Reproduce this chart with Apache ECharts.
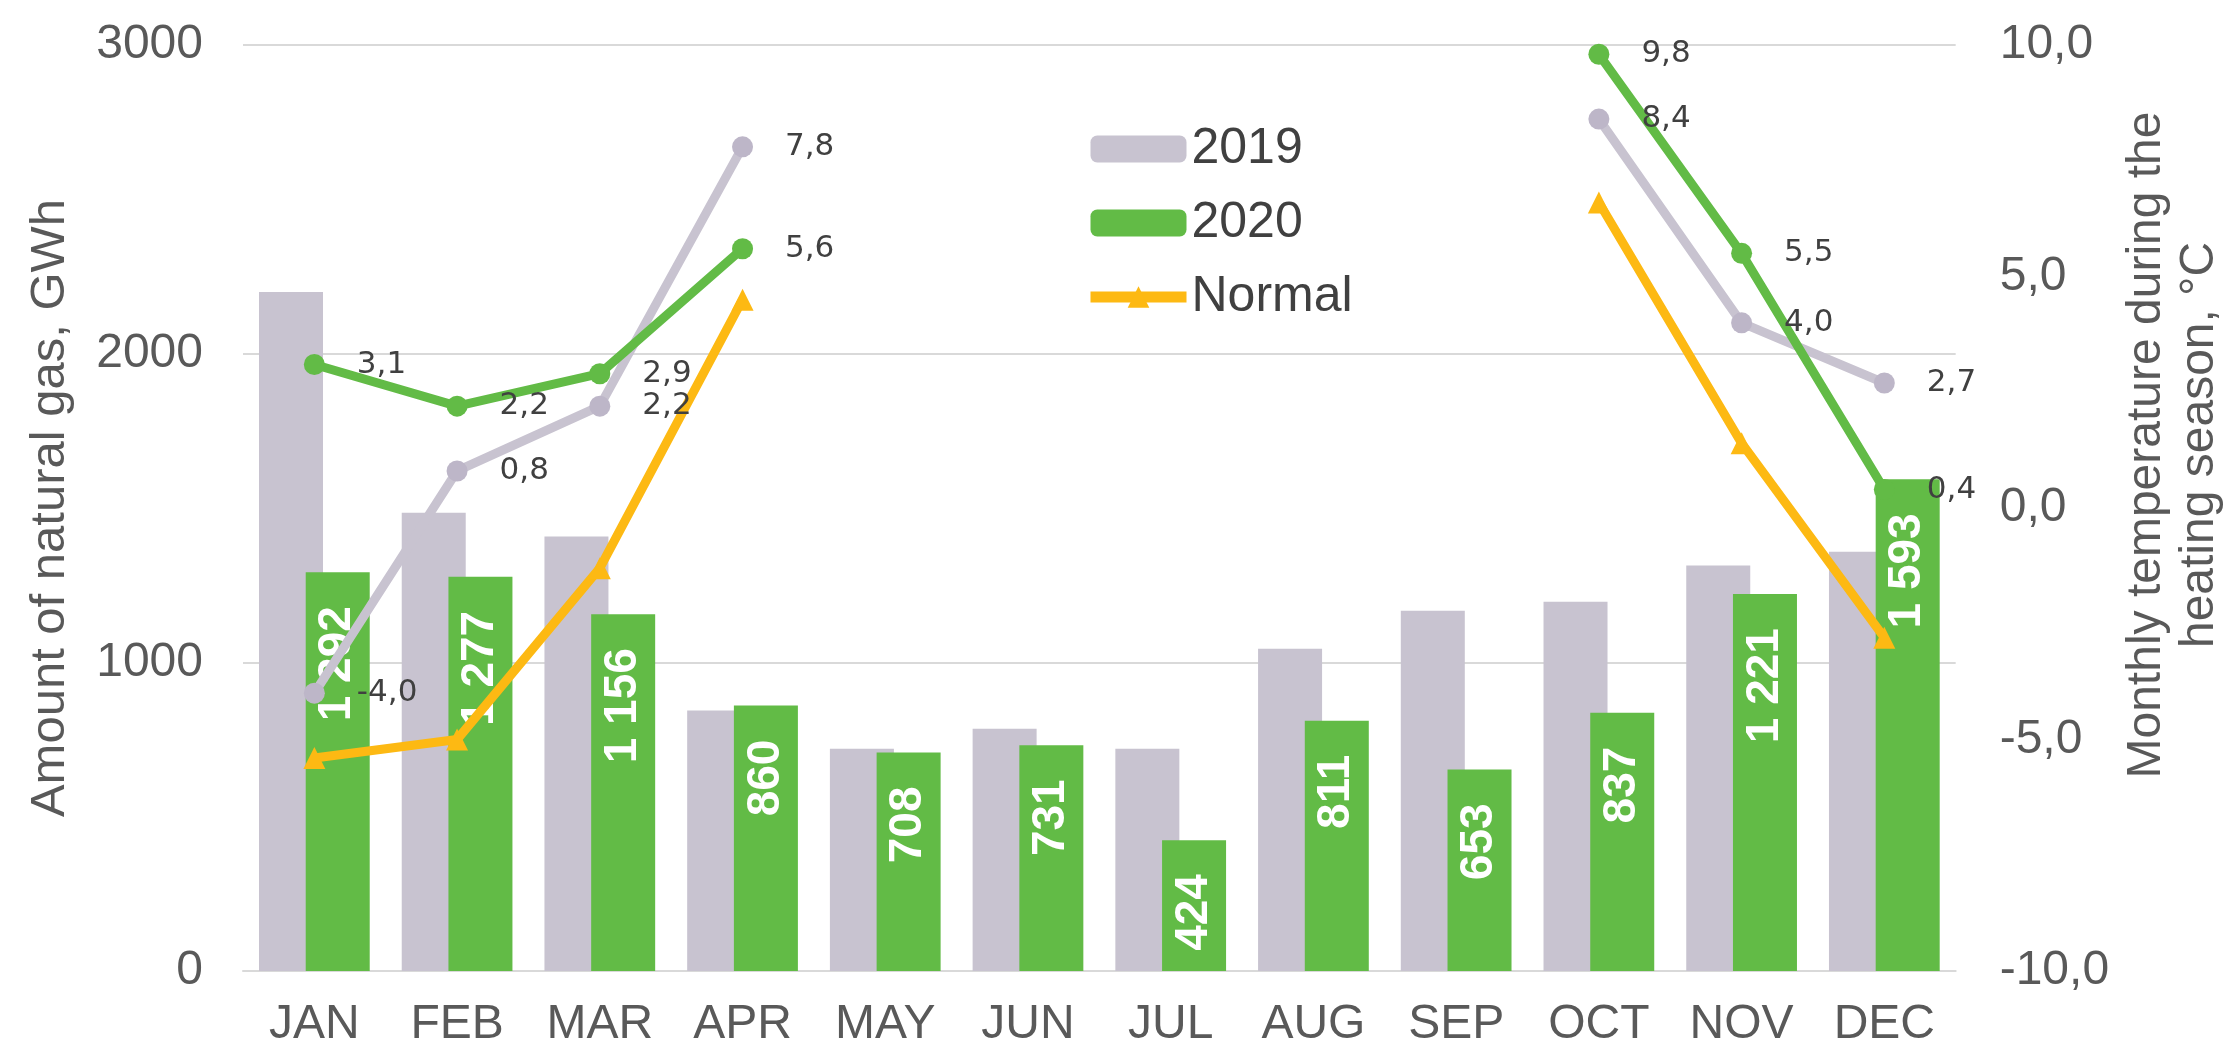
<!DOCTYPE html>
<html>
<head>
<meta charset="utf-8">
<script src="https://cdn.jsdelivr.net/npm/echarts@6/dist/echarts.min.js"></script>
<style>
  html, body { margin: 0; padding: 0; background: #fff; }
  #main { width: 2234px; height: 1049px; }
</style>
</head>
<body>
<div id="main"></div>
<script>
var months = ['JAN', 'FEB', 'MAR', 'APR', 'MAY', 'JUN', 'JUL', 'AUG', 'SEP', 'OCT', 'NOV', 'DEC'];

// natural gas, GWh
var gas2019 = [2200, 1485, 1408, 844, 720, 785, 720, 1044, 1167, 1196, 1314, 1358];
var gas2020 = [1292, 1277, 1156, 860, 708, 731, 424, 811, 653, 837, 1221, 1593];

// monthly temperature during the heating season, °C
var temp2019 = [-4.0, 0.8, 2.2, 7.8, null, null, null, null, null, 8.4, 4.0, 2.7];
var temp2020 = [3.1, 2.2, 2.9, 5.6, null, null, null, null, null, 9.8, 5.5, 0.4];
var tempNormal = [-5.4, -5.0, -1.3, 4.5, null, null, null, null, null, 6.6, 1.4, -2.8];

var leftTicks = [0, 3000, 1000];
var rightTicks = [-10, 10, 5];

var colGray = '#C8C3D0';
var colGreen = '#62BB46';
var colYellow = '#FDB913';
var colText = '#595959';

function comma1(v) {
	return v.toFixed(1).replace('.', ',');
}

function thousands(v) {
	return String(v).replace(/\B(?=(\d{3})+(?!\d))/g, ' ');
}

function tempLabel() {
	return {
		show: true,
		position: 'right',
		distance: 32,
		fontFamily: 'DejaVu Sans',
		fontSize: 31,
		color: '#404040',
		formatter: function (p) { return comma1(p.value); }
	};
}

var option = {
	animation: false,
	backgroundColor: '#fff',
	grid: {
		left: 243,
		right: 275,
		top: 45,
		bottom: 77
	},
	legend: {
		orient: 'vertical',
		left: 1080,
		top: 118,
		itemWidth: 96,
		itemHeight: 27,
		itemGap: 22,
		data: ['2019', '2020', {
			name: 'Normal',
			lineStyle: { width: 11 }
		}],
		textStyle: {
			fontFamily: 'Liberation Sans',
			fontSize: 50,
			color: '#404040',
			lineHeight: 52
		}
	},
	xAxis: {
		type: 'category',
		data: months,
		axisTick: { show: false },
		axisLine: { lineStyle: { color: '#D9D9D9', width: 2 } },
		axisLabel: {
			interval: 0,
			fontFamily: 'Liberation Sans',
			fontSize: 48,
			color: colText,
			margin: 30
		}
	},
	yAxis: [{
		type: 'value',
		min: leftTicks[0],
		max: leftTicks[1],
		interval: leftTicks[2],
		name: 'Amount of natural gas, GWh',
		nameLocation: 'middle',
		nameGap: 168,
		nameTextStyle: {
			fontFamily: 'Liberation Sans',
			fontSize: 49,
			color: colText
		},
		axisLine: { show: false },
		axisTick: { show: false },
		splitLine: { lineStyle: { color: '#D9D9D9', width: 2 } },
		axisLabel: {
			fontFamily: 'Liberation Sans',
			fontSize: 48,
			color: colText,
			margin: 40,
			formatter: function (v) { return String(v); }
		}
	}, {
		type: 'value',
		position: 'right',
		min: rightTicks[0],
		max: rightTicks[1],
		interval: rightTicks[2],
		name: 'Monthly temperature during the\nheating season, °C',
		nameLocation: 'middle',
		nameGap: 158,
		nameTextStyle: {
			fontFamily: 'Liberation Sans',
			fontSize: 48,
			lineHeight: 53,
			color: colText,
			padding: [0, 0, 0, 126]
		},
		axisLine: { show: false },
		axisTick: { show: false },
		splitLine: { show: false },
		axisLabel: {
			fontFamily: 'Liberation Sans',
			fontSize: 48,
			color: colText,
			margin: 44,
			formatter: comma1
		}
	}],
	series: [{
		name: '2019',
		type: 'bar',
		data: gas2019,
		barWidth: 64,
		barGap: '-27%',
		itemStyle: { color: colGray }
	}, {
		name: '2020',
		type: 'bar',
		data: gas2020,
		barWidth: 64,
		itemStyle: { color: colGreen },
		label: {
			show: true,
			position: 'insideTop',
			rotate: 90,
			align: 'right',
			verticalAlign: 'middle',
			distance: 34,
			fontFamily: 'Liberation Sans',
			fontWeight: 'bold',
			fontSize: 46,
			color: '#fff',
			formatter: function (p) { return thousands(p.value); }
		}
	}, {
		name: 'Temp 2019',
		type: 'line',
		yAxisIndex: 1,
		data: temp2019,
		symbol: 'circle',
		symbolSize: 21,
		lineStyle: { color: colGray, width: 9 },
		itemStyle: { color: '#BDB6C8' },
		label: tempLabel()
	}, {
		name: 'Temp 2020',
		type: 'line',
		yAxisIndex: 1,
		data: temp2020,
		symbol: 'circle',
		symbolSize: 21,
		lineStyle: { color: colGreen, width: 9 },
		itemStyle: { color: colGreen },
		label: tempLabel()
	}, {
		name: 'Normal',
		type: 'line',
		yAxisIndex: 1,
		data: tempNormal,
		symbol: 'triangle',
		symbolSize: 22,
		lineStyle: { color: colYellow, width: 9 },
		itemStyle: { color: colYellow }
	}]
};

var myChart = echarts.init(document.getElementById('main'));
myChart.setOption(option);
</script>
</body>
</html>
